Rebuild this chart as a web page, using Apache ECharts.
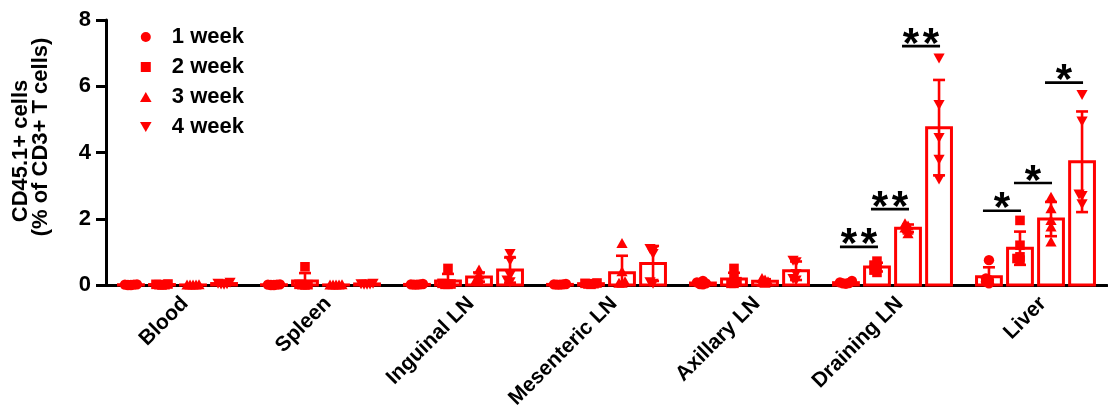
<!DOCTYPE html>
<html>
<head>
<meta charset="utf-8">
<script src="https://cdn.jsdelivr.net/npm/echarts@6/dist/echarts.min.js"></script>
<style>
  html, body { margin: 0; padding: 0; background: #ffffff; }
  #chart { width: 1108px; height: 418px; }
</style>
</head>
<body>
<div id="chart"></div>
<script>
// Tissues along the x axis
const categories = ['Blood', 'Spleen', 'Inguinal LN', 'Mesenteric LN', 'Axillary LN', 'Draining LN', 'Liver'];
const weeks = ['1 week', '2 week', '3 week', '4 week'];

// Individual animals (% CD45.1+ of CD3+ T cells), one list per tissue
const week1 = [
  [0.02, 0.01, 0.01, 0.0, 0.0],
  [0.02, 0.01, 0.01, 0.0, 0.0],
  [0.03, 0.02, 0.02, 0.01, 0.01],
  [0.03, 0.02, 0.02, 0.01, 0.01],
  [0.12, 0.08, 0.05, 0.03, 0.02],
  [0.12, 0.08, 0.06, 0.05, 0.04],
  [0.75, 0.2, 0.15, 0.1, 0.05]
];
const week2 = [
  [0.03, 0.02, 0.01, 0.01, 0.0],
  [0.55, 0.02, 0.01, 0.01, 0.0],
  [0.5, 0.05, 0.03, 0.02, 0.02],
  [0.06, 0.05, 0.04, 0.03, 0.02],
  [0.5, 0.2, 0.1, 0.05, 0.05],
  [0.72, 0.6, 0.55, 0.45, 0.38],
  [1.95, 1.2, 0.85, 0.8, 0.75]
];
const week3 = [
  [0.01, 0.0, 0.0, 0.0, 0.0],
  [0.01, 0.0, 0.0, 0.0, 0.0],
  [0.45, 0.3, 0.2, 0.15, 0.1],
  [1.25, 0.4, 0.1, 0.05, 0.05],
  [0.2, 0.15, 0.1, 0.08, 0.05],
  [1.85, 1.78, 1.72, 1.65, 1.55],
  [2.65, 2.3, 1.95, 1.75, 1.3]
];
const week4 = [
  [0.08, 0.05, 0.04, 0.03, 0.02],
  [0.05, 0.04, 0.03, 0.02, 0.02],
  [0.95, 0.75, 0.3, 0.15, 0.1],
  [1.1, 1.05, 0.95, 0.1, 0.05],
  [0.75, 0.7, 0.35, 0.2, 0.15],
  [6.85, 5.45, 4.45, 3.8, 3.2],
  [5.75, 4.95, 2.7, 2.75, 2.45]
];

// Significance brackets: [tissue index, from week, to week, bracket height, stars]
const significance = [
  [5, 0, 1, 1.15, '**'],
  [5, 1, 2, 2.29, '**'],
  [5, 2, 3, 7.21, '**'],
  [6, 0, 1, 2.24, '*'],
  [6, 1, 2, 3.08, '*'],
  [6, 2, 3, 6.11, '*']
];

// Y axis ticks
const yMin = 0, yMax = 8, yStep = 2;

const RED = '#ff0000';
const FONT = '"Liberation Sans", Arial, Helvetica, sans-serif';
const allWeeks = [week1, week2, week3, week4];

function mean(a) { return a.reduce((s, v) => s + v, 0) / a.length; }
function sd(a) {
  const m = mean(a);
  return Math.sqrt(a.reduce((s, v) => s + (v - m) * (v - m), 0) / (a.length - 1));
}

// horizontal spreading of overlapping dots
function swarm(values, toPx, minDist, step) {
  const order = values.map((v, j) => j).sort((a, b) => values[a] - values[b]);
  const placed = [];
  const out = new Array(values.length);
  for (const j of order) {
    const y = toPx(values[j]);
    let dx = 0;
    for (let t = 0; t < 30; t++) {
      dx = t === 0 ? 0 : (t % 2 ? -1 : 1) * Math.ceil(t / 2) * step;
      if (placed.every(p => Math.hypot(p[0] - dx, p[1] - y) >= minDist)) break;
    }
    placed.push([dx, y]);
    out[j] = [dx, y];
  }
  return out;
}

function markerShape(k, x, y) {
  const style = { fill: RED, stroke: null };
  if (k === 0) return { type: 'circle', shape: { cx: x, cy: y, r: 5.2 }, style };
  if (k === 1) return { type: 'rect', shape: { x: x - 4.8, y: y - 4.8, width: 9.6, height: 9.6 }, style };
  if (k === 2) return { type: 'polygon', shape: { points: [[x, y - 5.5], [x + 5.6, y + 4.5], [x - 5.6, y + 4.5]] }, style };
  return { type: 'polygon', shape: { points: [[x, y + 5.5], [x + 5.6, y - 4.5], [x - 5.6, y - 4.5]] }, style };
}

// slot geometry shared by bars and brackets
function slotCenter(api, cat, k) {
  const c = api.coord([cat, 0]);
  const band = api.size([1, 0])[0];
  const slot = band * 0.217;
  return { x: c[0] + (k - 1.5) * slot, y0: c[1], slot };
}

function weekSeries(k) {
  const pts = allWeeks[k];
  return {
    name: weeks[k],
    type: 'custom',
    itemStyle: { color: RED },
    encode: { x: 0, y: 1 },
    data: categories.map((c, i) => [i, mean(pts[i]), sd(pts[i])]),
    z: 3,
    renderItem: function (params, api) {
      const i = api.value(0);
      const m = api.value(1);
      const s = api.value(2);
      const g = slotCenter(api, i, k);
      const bw = g.slot * 0.8;
      const yTop = api.coord([i, m])[1];
      const yHi = api.coord([i, m + s])[1];
      const yLo = api.coord([i, Math.max(0, m - s)])[1];
      const capW = 12;
      const children = [
        { type: 'rect', shape: { x: g.x - bw / 2, y: yTop, width: bw, height: g.y0 - yTop },
          style: { fill: 'none', stroke: RED, lineWidth: 3 } },
        { type: 'line', shape: { x1: g.x, y1: yLo, x2: g.x, y2: yHi }, style: { stroke: RED, lineWidth: 2.6 } },
        { type: 'line', shape: { x1: g.x - capW / 2, y1: yHi, x2: g.x + capW / 2, y2: yHi }, style: { stroke: RED, lineWidth: 2.6 } }
      ];
      if (m - s > 0) {
        children.push({ type: 'line', shape: { x1: g.x - capW / 2, y1: yLo, x2: g.x + capW / 2, y2: yLo }, style: { stroke: RED, lineWidth: 2.6 } });
      }
      const placed = swarm(pts[i], v => api.coord([i, v])[1], 3, 3);
      placed.forEach(p => children.push(markerShape(k, g.x + p[0], p[1])));
      return { type: 'group', children };
    }
  };
}

const bracketSeries = {
  name: 'significance',
  type: 'custom',
  encode: { x: 0, y: 3 },
  data: significance,
  z: 4,
  renderItem: function (params, api) {
    const cat = api.value(0);
    const a = slotCenter(api, cat, api.value(1));
    const b = slotCenter(api, cat, api.value(2));
    const y = api.coord([cat, api.value(3)])[1];
    const x1 = a.x - 6, x2 = b.x + 1;
    const mid = (x1 + x2) / 2;
    const stars = significance[params.dataIndex][4].split('');
    const pitch = 20;
    const children = [
      { type: 'line', shape: { x1, y1: y, x2, y2: y }, style: { stroke: '#000', lineWidth: 2.6 } }
    ];
    stars.forEach((ch, j) => {
      children.push({
        type: 'text', x: mid + (j - (stars.length - 1) / 2) * pitch, y: y + 20,
        style: { text: ch, fill: '#000', font: 'bold 42px ' + FONT, textAlign: 'center', textVerticalAlign: 'bottom' }
      });
    });
    return { type: 'group', children };
  }
};

const iconPaths = [
  'path://M5,0A5,5,0,1,1,5,10A5,5,0,1,1,5,0Z',
  'path://M0,0L10,0L10,10L0,10Z',
  'path://M5,0L10.5,9.5L-0.5,9.5Z',
  'path://M-0.5,0L10.5,0L5,9.5Z'
];

const chart = echarts.init(document.getElementById('chart'), null, { renderer: 'canvas' });
chart.setOption({
  animation: false,
  backgroundColor: '#ffffff',
  grid: { left: 106, right: 1, top: 20, bottom: 133, containLabel: false },
  legend: {
    orient: 'vertical',
    left: 135,
    top: 21,
    itemWidth: 42,
    itemHeight: 10,
    itemGap: 8,
    symbolKeepAspect: true,
    textStyle: { color: '#000', fontSize: 22, fontWeight: 'bold', fontFamily: FONT },
    data: weeks.map((w, k) => ({ name: w, icon: iconPaths[k], itemStyle: { color: RED } }))
  },
  xAxis: {
    type: 'category',
    data: categories,
    boundaryGap: true,
    axisLine: { lineStyle: { color: '#000', width: 3 } },
    axisTick: { alignWithLabel: true, length: 8, lineStyle: { color: '#000', width: 3 } },
    axisLabel: { interval: 0, rotate: 45, margin: 8, verticalAlign: 'top', color: '#000', fontSize: 21, fontWeight: 'bold', fontFamily: FONT },
    splitLine: { show: false }
  },
  yAxis: {
    type: 'value',
    min: yMin, max: yMax, interval: yStep,
    axisLine: { show: true, lineStyle: { color: '#000', width: 3 } },
    axisTick: { show: true, length: 10, lineStyle: { color: '#000', width: 3 } },
    axisLabel: { margin: 15, color: '#000', fontSize: 22, fontWeight: 'bold', fontFamily: FONT },
    splitLine: { show: false }
  },
  graphic: [
    { type: 'text', x: 20.5, y: 151, rotation: Math.PI / 2,
      style: { text: 'CD45.1+ cells', fill: '#000', font: 'bold 22px ' + FONT, textAlign: 'center', textVerticalAlign: 'middle' } },
    { type: 'text', x: 40.5, y: 137, rotation: Math.PI / 2,
      style: { text: '(% of CD3+ T cells)', fill: '#000', font: 'bold 22px ' + FONT, textAlign: 'center', textVerticalAlign: 'middle' } }
  ],
  series: [weekSeries(0), weekSeries(1), weekSeries(2), weekSeries(3), bracketSeries]
});
</script>
</body>
</html>
